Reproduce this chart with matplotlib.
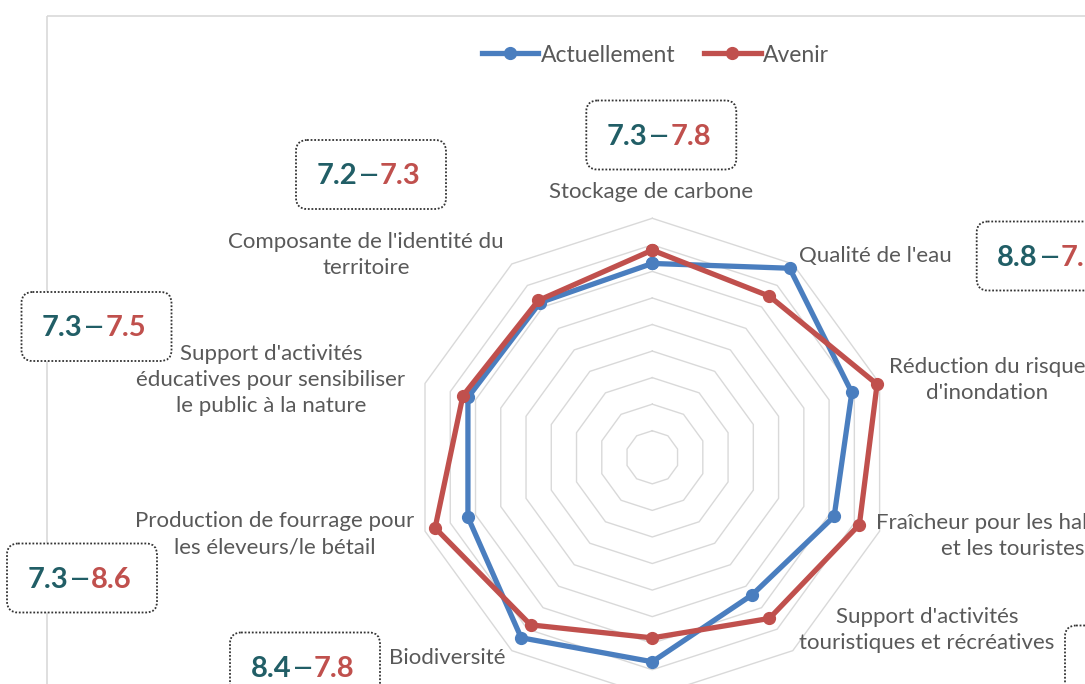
import numpy as np
import matplotlib
matplotlib.use("Agg")
import matplotlib.pyplot as plt
from matplotlib.patches import FancyBboxPatch, Rectangle

plt.rcParams['font.family'] = ['Lato', 'DejaVu Sans']

# ---------------- data ----------------
categories = [
    "Stockage de carbone",
    "Qualité de l'eau",
    "Réduction du risque\nd'inondation",
    "Fraîcheur pour les habitants\net les touristes",
    "Support d'activités\ntouristiques et récréatives",
    "Qualité paysagère",
    "Biodiversité",
    "Production de fourrage pour\nles éleveurs/le bétail",
    "Support d'activités\néducatives pour sensibiliser\nle public à la nature",
    "Composante de l'identité du\nterritoire",
]
actuellement = [7.3, 8.8, 7.9, 7.2, 6.4, 7.7, 8.4, 7.3, 7.3, 7.2]
avenir = [7.8, 7.5, 8.9, 8.2, 7.5, 6.8, 7.8, 8.6, 7.5, 7.3]
series_names = ["Actuellement", "Avenir"]
ring_levels = [1, 2, 3, 4, 5, 6, 7, 8, 9]

# ---------------- styles / layout ----------------
W, H = 1085, 684
BLUE = "#4A7EBF"
RED = "#C0504D"
TEAL = "#215E66"
GRID = "#D9D9D9"
LABEL = "#595959"

cx, cy, R = 652.3, 457.3, 239.0     # polar centre / radius in pixels (from top-left)
rmax = 9

# label centres (pixels, from top-left)
label_pos = [(651, 192), (875, 256), (987, 380), (1013, 536), (927, 630),
             (652, 725), (447, 658), (275, 534), (271, 380), (366, 255)]
# box centres (pixels)
box_pos = [(661.3, 135), (1051.7, 256), (1175, 385), (1185, 540), (1140, 660),
           (652, 770), (305, 667), (82, 578), (96.5, 326.5), (371, 174.5)]
BW, BH = 150, 69

fig = plt.figure(figsize=(W / 100, H / 100), dpi=100)
fig.patch.set_facecolor("white")

# polar axes
ax = fig.add_axes([(cx - R) / W, (H - cy - R) / H, 2 * R / W, 2 * R / H], projection="polar")
ax.set_theta_offset(np.pi / 2)
ax.set_theta_direction(-1)
ax.set_ylim(0, rmax)
ax.grid(False)
ax.set_xticks([])
ax.set_yticks([])
ax.spines["polar"].set_visible(False)
ax.patch.set_visible(False)

n = len(categories)
angles = np.linspace(0, 2 * np.pi, n, endpoint=False)
closed = np.concatenate([angles, angles[:1]])

for lvl in ring_levels:
    ax.plot(closed, [lvl] * (n + 1), color=GRID, lw=1.0, zorder=1, clip_on=False)

lines = []
for vals, col, name in [(actuellement, BLUE, series_names[0]), (avenir, RED, series_names[1])]:
    v = list(vals) + [vals[0]]
    ln, = ax.plot(closed, v, color=col, lw=3.8, marker="o", ms=8.5, zorder=3,
                  clip_on=False, label=name, solid_joinstyle="round")
    lines.append(ln)

# overlay axes in pixel coordinates
ov = fig.add_axes([0, 0, 1, 1], zorder=5)
ov.set_xlim(0, W)
ov.set_ylim(H, 0)
ov.axis("off")

# chart area border
ov.add_patch(Rectangle((47, 16), 1200, 900, fill=False, edgecolor=GRID, lw=1.2, zorder=0))

# category labels
for txt, (x, y) in zip(categories, label_pos):
    ov.text(x, y, txt, ha="center", va="center", multialignment="center",
            fontsize=16, color=LABEL, linespacing=1.4, zorder=2)

# value boxes
for a, b, (x, y) in zip(actuellement, avenir, box_pos):
    ov.add_patch(FancyBboxPatch((x - BW / 2, y - BH / 2), BW, BH,
                                boxstyle="round,pad=0,rounding_size=11",
                                facecolor="white", edgecolor="#333333",
                                lw=1.3, linestyle=(0, (1, 1)), zorder=3))
    base = y + 10
    ov.text(x - 2, base - 4, "—", ha="center", va="baseline", fontsize=13,
            fontweight="bold", color=TEAL, zorder=4, family="DejaVu Sans")
    ov.text(x - 14, base, f"{a:.1f}", ha="right", va="baseline", fontsize=21,
            fontweight="bold", color=TEAL, zorder=4)
    ov.text(x + 9, base, f"{b:.1f}", ha="left", va="baseline", fontsize=21,
            fontweight="bold", color=RED, zorder=4)

# legend
leg = fig.legend(handles=lines, loc="center", bbox_to_anchor=(655.5 / W, 1 - 55 / H),
                 ncol=2, frameon=False, fontsize=16.5, handlelength=2.45,
                 handletextpad=0.12, columnspacing=1.27, numpoints=1)
for t in leg.get_texts():
    t.set_color(LABEL)

fig.savefig("out.png", dpi=100, facecolor="white")
